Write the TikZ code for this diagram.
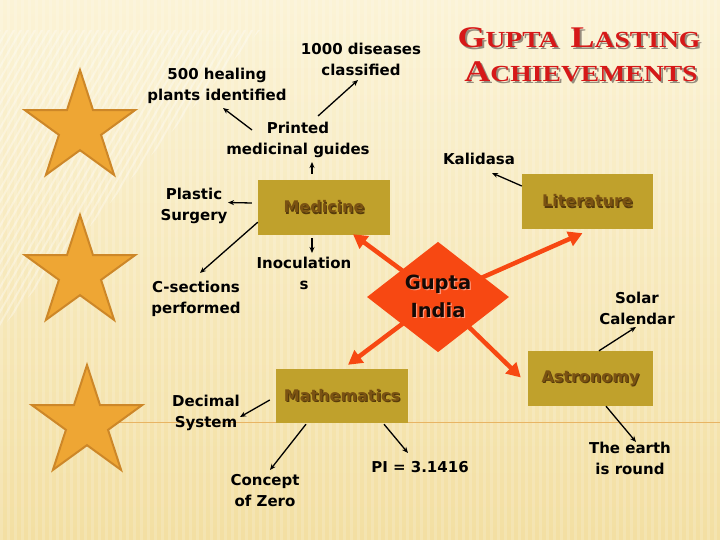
\documentclass[tikz,border=0pt]{standalone}
\usepackage{fontspec}
\setmainfont{DejaVu Sans}
\newfontfamily\titlefont[FakeStretch=1.2]{Liberation Serif}
\usetikzlibrary{arrows.meta,calc,shapes.geometric}
\definecolor{bgtop}{RGB}{251,243,214}
\definecolor{bgbot}{RGB}{243,223,162}
\definecolor{boxfill}{RGB}{192,161,44}
\definecolor{boxtext}{RGB}{122,82,18}
\definecolor{boxshadow}{RGB}{85,58,12}
\definecolor{redarrow}{RGB}{247,72,18}
\definecolor{guptatext}{RGB}{20,10,6}
\definecolor{guptashadow}{RGB}{255,150,120}
\definecolor{starfill}{RGB}{238,166,52}
\definecolor{stardraw}{RGB}{205,135,40}
\definecolor{titlered}{RGB}{214,24,24}
\definecolor{titleshadow}{RGB}{150,140,125}
\definecolor{lineor}{RGB}{232,180,100}
\newcommand\shtext[3]{\makebox[0pt][l]{\hspace{#2}\raisebox{-#2}{\color{#1}#3}}#3}
\newcommand\ttl[2]{{\fontsize{30}{30}\selectfont #1}{\fontsize{23}{23}\selectfont #2}}
\begin{document}
\begin{tikzpicture}[x=1pt,y=-1pt,
  lbl/.style={font=\fontsize{15}{21}\selectfont\bfseries, align=center, inner sep=0pt, text=black},
  boxst/.style={fill=boxfill, inner sep=0pt, font=\fontsize{16}{16}\selectfont\bfseries, text=boxtext},
  blk/.style={-{Stealth[length=6pt,width=5pt]}, line width=1.3pt, black},
  redarr/.style={-{Triangle[length=14pt,width=15pt]}, line width=4.5pt, draw=redarrow},
  starsh/.style={star, star points=5, star point ratio=2.618, minimum size=116pt, inner sep=0pt, fill=starfill, draw=stardraw, line width=2pt},
  titlest/.style={anchor=base, text=titlered, font=\titlefont\bfseries, inner sep=0pt}]
\useasboundingbox (0,0) rectangle (720,540);
% background
\shade[top color=bgtop, bottom color=bgbot] (0,0) rectangle (720,540);
\foreach \i in {0,7,...,720} \fill[white, opacity=0.16] (\i,0) rectangle (\i+3,540);
\begin{scope}
\clip (0,30) -- (260,30) -- (0,330) -- cycle;
\foreach \i in {0,7,...,560} \draw[white, opacity=0.35, line width=2pt] (\i,30) -- (\i-240,450);
\end{scope}
\draw[lineor, line width=1pt] (87,422) -- (720,422);
% stars
\node[starsh] (s1) at (80,128) {};
\node[starsh] (s2) at (80,273) {};
\node[starsh] (s3) at (87,423) {};
% title
\node[titlest] (t1) at (579,48) {\shtext{titleshadow}{2pt}{\ttl{G}{UPTA}\hspace{12pt}\ttl{L}{ASTING}}};
\node[titlest] (t2) at (581,82) {\shtext{titleshadow}{2pt}{\ttl{A}{CHIEVEMENTS}}};
% boxes
\node[boxst, minimum width=132pt, minimum height=55pt] (med) at (324,207.5) {\shtext{boxshadow}{1.2pt}{Medicine}};
\node[boxst, minimum width=131pt, minimum height=55pt] (lit) at (587.5,201.5) {\shtext{boxshadow}{1.2pt}{Literature}};
\node[boxst, minimum width=132pt, minimum height=54pt] (math) at (342,396) {\shtext{boxshadow}{1.2pt}{Mathematics}};
\node[boxst, minimum width=125pt, minimum height=55pt] (astro) at (590.5,378.5) {\shtext{boxshadow}{1.2pt}{Astronomy}};
% red arrows
\coordinate (gc) at (438,297);
\draw[redarr] (gc) -- ($(med.south)+(29,-1)$);
\draw[redarr] (gc) -- ($(lit.south)+(-5,4)$);
\draw[redarr] (gc) -- ($(math.north)+(6,-4)$);
\draw[redarr] (gc) -- ($(astro.west)+(-7,-1)$);
\node[diamond, fill=redarrow, minimum width=142pt, minimum height=109pt, inner sep=0pt,
      font=\fontsize{19.5}{28}\selectfont\bfseries, align=center, text=guptatext] (gupta) at (438,297)
      {\shtext{guptashadow}{1.3pt}{Gupta}\\\shtext{guptashadow}{1.3pt}{India}};
% labels
\node[lbl] (heal) at (217,86) {500 healing\\plants identified};
\node[lbl] (dis) at (361,59) {1000 diseases\\classified};
\node[lbl] (printed) at (298,140) {Printed\\medicinal guides};
\node[lbl] (kali) at (479,159) {Kalidasa};
\node[lbl] (plastic) at (194,206) {Plastic\\Surgery};
\node[lbl] (inoc) at (304,273) {Inoculation\\s};
\node[lbl] (csec) at (196,299) {C-sections\\performed};
\node[lbl] (solar) at (637,308) {Solar\\Calendar};
\node[lbl] (decimal) at (206,413) {Decimal\\System};
\node[lbl] (zero) at (265,491) {Concept\\of Zero};
\node[lbl] (pi) at (420,467) {PI = 3.1416};
\node[lbl] (earth) at (630,458) {The earth\\is round};
% black arrows
\draw[blk] ($(printed)+(-46,-10)$) -- ($(heal)+(6,22)$);
\draw[blk] ($(printed)+(20,-24)$) -- ($(dis)+(-3,21)$);
\draw[blk] ($(med.north)+(-12,-6)$) -- ($(printed)+(14,22)$);
\draw[blk] ($(med.west)+(-6,-4.5)$) -- ($(plastic)+(34,-3.5)$);
\draw[blk] ($(med.south west)+(0,-13)$) -- ($(csec)+(4,-26)$);
\draw[blk] ($(med.south)+(-12,3)$) -- ($(inoc)+(8,-20)$);
\draw[blk] ($(lit.west)+(0,-15.5)$) -- ($(kali)+(13,14)$);
\draw[blk] ($(math.west)+(-6,4)$) -- ($(decimal)+(34,4)$);
\draw[blk] ($(math.south)+(-36,1)$) -- ($(zero)+(5,-21)$);
\draw[blk] ($(math.south)+(42,1)$) -- ($(pi)+(-12,-14)$);
\draw[blk] ($(astro.north)+(8.5,0)$) -- ($(solar)+(-1,19)$);
\draw[blk] ($(astro.south)+(15.5,0)$) -- ($(earth)+(6,-16)$);
\end{tikzpicture}
\end{document}
